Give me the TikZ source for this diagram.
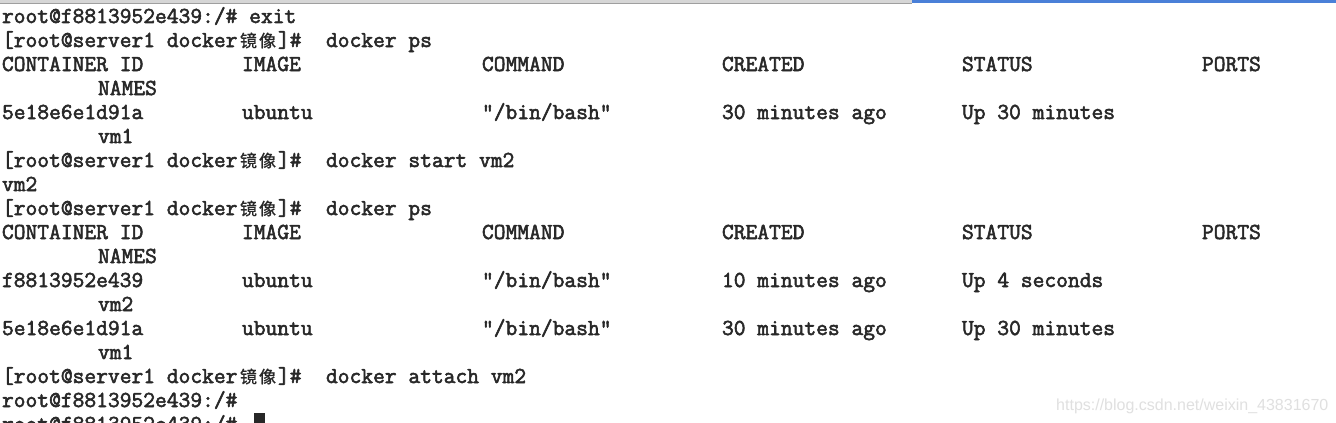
\documentclass[tikz,border=0pt]{standalone}
\usepackage{fontspec}
\newfontfamily\termfont[FakeBold=2.4]{Latin Modern Mono}
\newfontfamily\cjk[FakeBold=1]{Noto Sans CJK SC}
\newfontfamily\wmfont{Liberation Sans}

\definecolor{termtext}{RGB}{40,40,40}
\definecolor{tabblue}{RGB}{74,128,216}
\definecolor{tabgray}{RGB}{214,214,214}
\definecolor{wmgray}{RGB}{224,224,224}

% one piece of terminal text: name, row, column, text
\newcommand\termtxt[4]{\node[tty] (#1) at ({2+12*(#3)},{23+24*(#2)}) {#4};}
% a shell prompt on the host: name, row, command
\newcommand\hostprompt[3]{%
  \node[tty] (#1a) at (2,{23+24*(#2)}) {[root@server1 docker};
  \node[han] (#1b) at (240,{23+24*(#2)}) {镜\hspace{2pt}像};
  \node[tty] (#1c) at (278,{23+24*(#2)}) {]\#};
  \node[tty] (#1d) at (326,{23+24*(#2)}) {#3};}
% header of docker ps: name, row
\newcommand\psheader[2]{%
  \foreach \i/\h in {0/CONTAINER ID,1/IMAGE,2/COMMAND,3/CREATED,4/STATUS,5/PORTS}
    \node[tty] (#1-\i) at ({2+240*\i},{23+24*(#2)}) {\h};
  \termtxt{#1-n}{#2+1}{8}{NAMES}}
% one container line: name, row, id, created, status, names
\newcommand\psline[6]{%
  \termtxt{#1-0}{#2}{0}{#3}
  \termtxt{#1-1}{#2}{20}{ubuntu}
  \termtxt{#1-2}{#2}{40}{"/bin/bash"}
  \termtxt{#1-3}{#2}{60}{#4}
  \termtxt{#1-4}{#2}{80}{#5}
  \termtxt{#1-n}{#2+1}{8}{#6}}

\begin{document}
\begin{tikzpicture}[x=1pt,y=-1pt,
    tty/.style={anchor=base west,inner sep=0pt,outer sep=0pt,text=termtext,
      font=\termfont\fontsize{22.86}{24}\selectfont},
    han/.style={tty,font=\cjk\fontsize{17}{20}\selectfont},
    wmark/.style={anchor=base west,inner sep=0pt,text=wmgray,
      font=\wmfont\fontsize{16}{18}\selectfont}]

  \fill[white] (0,0) rectangle (1336,423);
  \useasboundingbox (0,0) rectangle (1336,423);

  % window tabs
  \fill[tabgray] (0,0) rectangle (912,3);
  \draw[gray!75,line width=0.8pt] (0,3.4) -- (912,3.4);
  \fill[tabblue] (912,0) rectangle (1336,3);

  \termtxt{exit}{0}{0}{root@f8813952e439:/\# exit}
  \hostprompt{ps1}{1}{docker ps}
  \psheader{hd1}{2}
  \psline{vmA}{4}{5e18e6e1d91a}{30 minutes ago}{Up 30 minutes}{vm1}
  \hostprompt{start}{6}{docker start vm2}
  \termtxt{out}{7}{0}{vm2}
  \hostprompt{ps2}{8}{docker ps}
  \psheader{hd2}{9}
  \psline{vmB}{11}{f8813952e439}{10 minutes ago}{Up 4 seconds}{vm2}
  \psline{vmC}{13}{5e18e6e1d91a}{30 minutes ago}{Up 30 minutes}{vm1}
  \hostprompt{attach}{15}{docker attach vm2}
  \termtxt{in1}{16}{0}{root@f8813952e439:/\#}
  \termtxt{in2}{17}{0}{root@f8813952e439:/\#}

  % cursor
  \fill[termtext] (254,413) rectangle (265,425);

  \node[wmark] (wm) at (1056,410) {https://blog.csdn.net/weixin\_43831670};
\end{tikzpicture}
\end{document}
